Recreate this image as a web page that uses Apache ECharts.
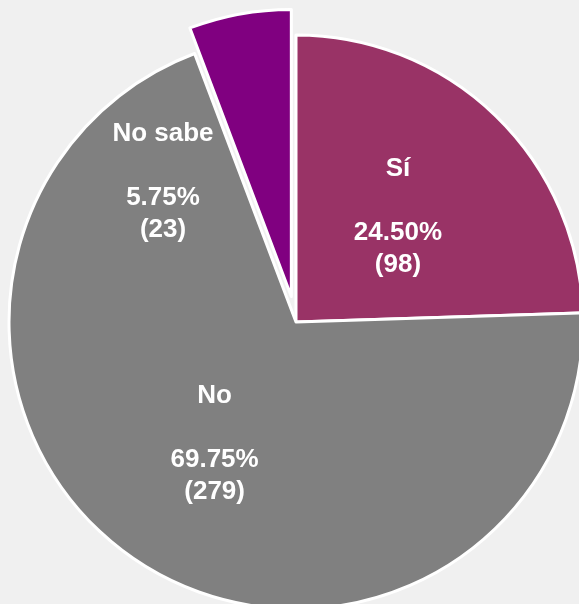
<!DOCTYPE html>
<html>
<head>
<meta charset="utf-8">
<script src="https://cdn.jsdelivr.net/npm/echarts@6/dist/echarts.min.js"></script>
<style>
html,body{margin:0;padding:0;background:#f0f0f0;}
#chart{width:579px;height:604px;}
</style>
</head>
<body>
<div id="chart"></div>
<script>
var categories = ['Sí', 'No', 'No sabe'];
var counts = [98, 279, 23];
var percentLabels = ['24.50%', '69.75%', '5.75%'];
var colors = ['#993366', '#808080', '#800080'];
var exploded = [false, false, true];

var chart = echarts.init(document.getElementById('chart'));
var data = categories.map(function (c, i) {
  return {
    name: c,
    value: counts[i],
    selected: exploded[i],
    itemStyle: { color: colors[i] }
  };
});

chart.setOption({
  backgroundColor: '#f0f0f0',
  animation: false,
  series: [{
    type: 'pie',
    center: [296, 322],
    radius: [0, 287],
    startAngle: 90,
    clockwise: true,
    selectedMode: 'single',
    selectedOffset: 26,
    avoidLabelOverlap: false,
    itemStyle: { borderColor: '#ffffff', borderWidth: 3 },
    label: {
      show: true,
      position: 'inside',
      color: '#ffffff',
      fontFamily: 'Liberation Sans, Arial, sans-serif',
      fontWeight: 'bold',
      fontSize: 26,
      lineHeight: 32,
      align: 'center',
      formatter: function (p) {
        return p.name + '\n\n' + percentLabels[p.dataIndex] + '\n(' + p.value + ')';
      }
    },
    labelLayout: function (p) {
      if (p.dataIndex === 2) {
        return { dx: -102, dy: 30 };
      }
      return {};
    },
    emphasis: { disabled: true },
    data: data
  }]
});
</script>
</body>
</html>
